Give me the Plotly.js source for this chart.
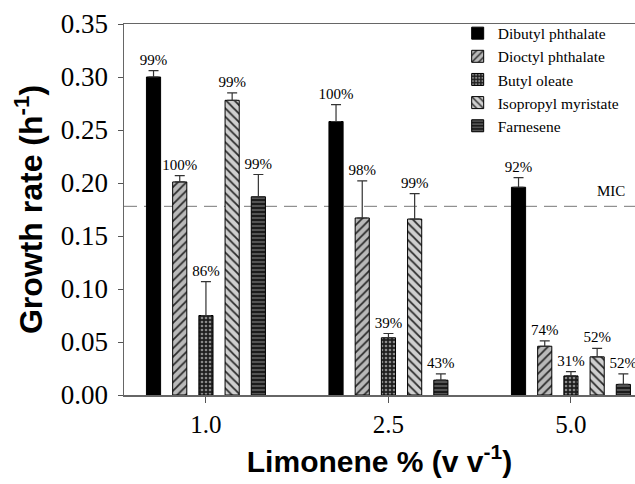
<!DOCTYPE html>
<html>
<head>
<meta charset="utf-8">
<script src="https://cdn.plot.ly/plotly-3.0.1.min.js"></script>
<style>html,body{margin:0;padding:0;background:#fff;}#chart{width:635px;height:484px;}</style>
</head>
<body>
<div id="chart"></div>
<script>
// ---- data ----
const concentrations = ['1.0', '2.5', '5.0'];
const seriesNames = ['Dibutyl phthalate', 'Dioctyl phthalate', 'Butyl oleate', 'Isopropyl myristate', 'Farnesene'];

const dibutylRate = [0.300, 0.258, 0.196];
const dibutylErr  = [0.006, 0.016, 0.009];
const dibutylPct  = ['99%', '100%', '92%'];

const dioctylRate = [0.201, 0.167, 0.046];
const dioctylErr  = [0.006, 0.035, 0.005];
const dioctylPct  = ['100%', '98%', '74%'];

const butylRate = [0.075, 0.054, 0.018];
const butylErr  = [0.032, 0.004, 0.004];
const butylPct  = ['86%', '39%', '31%'];

const isopropylRate = [0.278, 0.166, 0.036];
const isopropylErr  = [0.007, 0.024, 0.008];
const isopropylPct  = ['99%', '99%', '52%'];

const farneseneRate = [0.187, 0.014, 0.010];
const farneseneErr  = [0.021, 0.006, 0.010];
const farnesenePct  = ['99%', '43%', '52%'];

const micValue = 0.178;
const micLabel = 'MIC';

// ---- styles ----
const rates = [dibutylRate, dioctylRate, butylRate, isopropylRate, farneseneRate];
const errs = [dibutylErr, dioctylErr, butylErr, isopropylErr, farneseneErr];
const pcts = [dibutylPct, dioctylPct, butylPct, isopropylPct, farnesenePct];
const patterns = [
  {shape: '', bgcolor: '#000000', fgcolor: '#000000'},
  {shape: '/', bgcolor: '#b9b9b9', fgcolor: '#2a2a2a', size: 6, solidity: 0.3},
  {shape: '.', bgcolor: '#1e1e1e', fgcolor: '#8a8a8a', size: 4, solidity: 0.35},
  {shape: '\\', bgcolor: '#cfcfcf', fgcolor: '#2a2a2a', size: 6, solidity: 0.3},
  {shape: '-', bgcolor: '#1c1c1c', fgcolor: '#5a5a5a', size: 4, solidity: 0.45}
];
const serif = '"Liberation Serif", "Times New Roman", serif';
const sans = '"Liberation Sans", Arial, sans-serif';

const traces = [];
seriesNames.forEach((name, i) => {
  const pat = patterns[i];
  const marker = {color: pat.bgcolor, line: {color: '#000', width: 1}};
  if (pat.shape) marker.pattern = {shape: pat.shape, bgcolor: pat.bgcolor, fgcolor: pat.fgcolor, size: pat.size, solidity: pat.solidity, fillmode: 'replace'};
  traces.push({
    type: 'bar', name: name, x: concentrations, y: rates[i],
    offsetgroup: 'g' + i,
    marker: marker,
    error_y: {type: 'data', symmetric: false, array: errs[i], arrayminus: errs[i].map(() => 0), color: '#333', thickness: 1.2, width: 5},
    hoverinfo: 'skip'
  });
});
// percentage labels placed above the error bars
seriesNames.forEach((name, i) => {
  traces.push({
    type: 'bar', name: name + ' label', showlegend: false,
    x: concentrations, y: rates[i].map((v, k) => v + errs[i][k]),
    offsetgroup: 'g' + i,
    marker: {color: 'rgba(0,0,0,0)', line: {width: 0}},
    text: pcts[i], textposition: 'outside', constraintext: 'none', cliponaxis: false,
    textfont: {family: serif, size: 15, color: '#000'},
    hoverinfo: 'skip'
  });
});

const layout = {
  width: 635, height: 484,
  font: {family: serif, color: '#000'},
  margin: {l: 124, r: 0, t: 24, b: 89},
  paper_bgcolor: '#fff', plot_bgcolor: '#fff',
  barmode: 'group', bargap: 0.282, bargroupgap: 0.46,
  showlegend: true,
  legend: {x: 0.653, y: 1.02, xanchor: 'left', yanchor: 'top', bgcolor: 'rgba(0,0,0,0)',
           font: {family: serif, size: 15.5, color: '#000'}, tracegroupgap: 0, itemwidth: 30},
  xaxis: {
    type: 'category', range: [-0.449, 2.351],
    ticks: 'outside', ticklen: 6, tickcolor: '#555', tickwidth: 1,
    showgrid: false, zeroline: false,
    showline: true, linecolor: '#666', linewidth: 1.5, mirror: true,
    tickfont: {family: serif, size: 25, color: '#000'},
    title: {text: 'Limonene % (v v<sup>-1</sup>)', font: {family: sans, size: 30, color: '#000', weight: 'bold'}, standoff: 14}
  },
  yaxis: {
    range: [0, 0.35], dtick: 0.05, tickformat: '.2f',
    ticks: 'outside', ticklen: 5, tickcolor: '#555', tickwidth: 1, ticklabelstandoff: 4,
    showgrid: false, zeroline: false,
    showline: true, linecolor: '#666', linewidth: 1.5,
    tickfont: {family: serif, size: 27, color: '#000'},
    title: {text: 'Growth rate (h<sup>-1</sup>)', font: {family: sans, size: 32, color: '#000', weight: 'bold'}, standoff: 8}
  },
  shapes: [{type: 'line', xref: 'paper', x0: 0, x1: 1, yref: 'y', y0: micValue, y1: micValue,
            line: {color: '#777', width: 1, dash: '13px,7px'}, layer: 'below'}],
  annotations: [{xref: 'paper', x: 0.985, xanchor: 'right', yref: 'y', y: micValue, yanchor: 'bottom', yshift: 5,
                 text: micLabel, showarrow: false, font: {family: serif, size: 15, color: '#000'}}]
};

Plotly.newPlot('chart', traces, layout, {displayModeBar: false, staticPlot: true});
</script>
</body>
</html>
